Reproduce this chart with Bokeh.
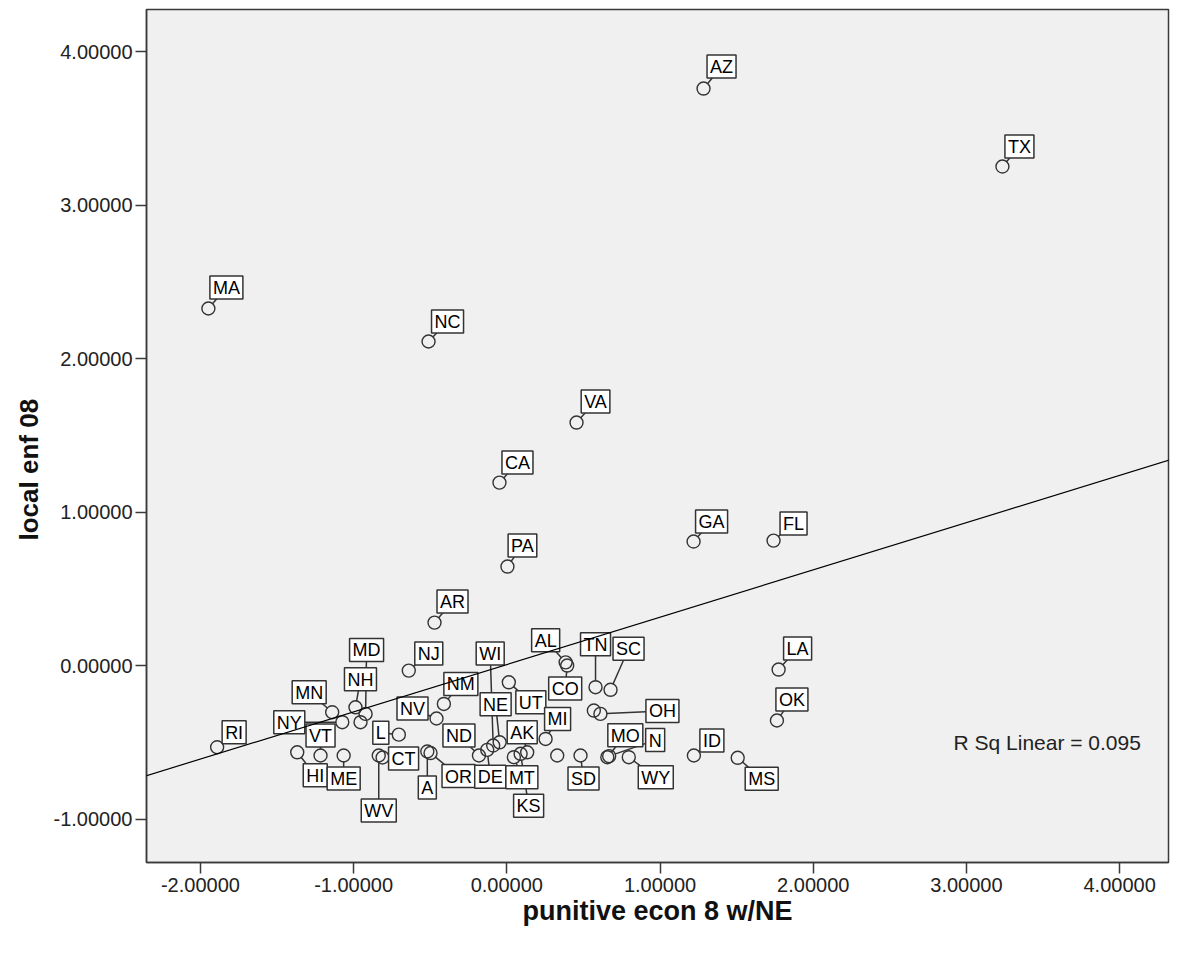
import numpy as np
from bokeh.plotting import figure
from bokeh.models import (Range1d, FixedTicker, PrintfTickFormatter, Slope, Label,
                          ColumnDataSource, Title)
from bokeh.core.properties import value
from bokeh.embed import file_html
from bokeh.resources import INLINE

# ---------------- data ----------------
states = ["AZ", "TX", "MA", "NC", "VA", "CA", "GA", "FL", "PA", "AR", "LA", "OK",
          "RI", "MN", "NY", "NH", "MD", "WA", "VT", "HI", "ME", "IL", "WV", "CT",
          "IA", "OR", "NV", "NM", "NJ", "ND", "DE", "WI", "NE", "UT", "AK", "MT",
          "KS", "AL", "CO", "TN", "SC", "KY", "OH", "MI", "DC", "SD", "MO", "IN",
          "WY", "ID", "MS"]
punitive_econ = [1.284, 3.235, -1.948, -0.511, 0.455, -0.048, 1.219, 1.741, 0.004, -0.472,
                 1.774, 1.763, -1.891, -1.140, -1.074, -0.988, -0.922, -0.955, -1.216,
                 -1.368, -1.065, -0.705, -0.836, -0.811, -0.519, -0.498, -0.459, -0.411,
                 -0.640, -0.182, -0.128, -0.089, -0.047, 0.013, 0.133, 0.046, 0.090,
                 0.384, 0.394, 0.579, 0.677, 0.568, 0.611, 0.253, 0.329, 0.481, 0.656,
                 0.668, 0.796, 1.221, 1.507]
local_enf = [3.759, 3.251, 2.326, 2.111, 1.583, 1.192, 0.808, 0.814, 0.645, 0.280,
             -0.026, -0.358, -0.532, -0.304, -0.369, -0.272, -0.315, -0.369, -0.586,
             -0.565, -0.586, -0.450, -0.586, -0.599, -0.560, -0.570, -0.345, -0.250,
             -0.033, -0.586, -0.549, -0.521, -0.500, -0.109, -0.565, -0.597, -0.575,
             0.021, 0.000, -0.141, -0.158, -0.293, -0.315, -0.478, -0.586, -0.586,
             -0.597, -0.590, -0.597, -0.586, -0.601]
# text shown in each case label ("" = label hidden by the chart)
shown_labels = ["AZ", "TX", "MA", "NC", "VA", "CA", "GA", "FL", "PA", "AR", "LA", "OK",
                "RI", "MN", "NY", "NH", "MD", "", "VT", "HI", "ME", "L", "WV", "CT",
                "A", "OR", "NV", "NM", "NJ", "ND", "DE", "WI", "NE", "UT", "AK", "MT",
                "KS", "AL", "CO", "TN", "SC", "", "OH", "MI", "", "SD", "MO", "N",
                "WY", "ID", "MS"]
fit_intercept = 0.007
fit_slope = 0.308
r_sq_text = "R Sq Linear = 0.095"
x_title = "punitive econ 8 w/NE"
y_title = "local enf 08"
x_ticks = [-2, -1, 0, 1, 2, 3, 4]
y_ticks = [-1, 0, 1, 2, 3, 4]

# ---------------- layout (label offsets in screen px) ----------------
label_dx = [18, 17, 18, 19, 19, 18, 18, 20, 15, 18, 19, 15,
            17, -23, -53, 5, 1, 0, 0, 18, 0, -18, 0, 21,
            0, 28, -24, 17, 20, -20, 3, -3, -4, 22, -5, 8,
            8, -20, -2, 0, 18, 0, 62, 12, 0, 3, 18, 46,
            27, 18, 24]
label_dy = [-22, -20, -21, -20, -21, -20, -20, -17, -21, -21, -21, -21,
            -15, -20, 0, -28, -64, 0, -20, 23, 23, -2, 55, 1,
            36, 23, -10, -20, -17, -20, 27, -92, -38, 20, -20, 20,
            52, -22, 23, -43, -41, 0, -3, -20, 0, 23, -22, -16,
            20, -15, 21]

x0, x1 = -2.352, 4.319
y0, y1 = -1.283, 4.274
FW, FH = 1022, 853
LEFT, TOP = 146, 9
sx = FW / (x1 - x0)
sy = FH / (y1 - y0)

px = np.array(punitive_econ)
py = np.array(local_enf)
ddx = np.array(label_dx, dtype=float)
ddy = np.array(label_dy, dtype=float)
keep = np.array([s != "" for s in shown_labels])

lx = px + ddx / sx
ly = py - ddy / sy
dist = np.hypot(ddx, ddy)
dist[dist == 0] = 1
r = 6.0
sx0 = px + (ddx / dist * r) / sx
sy0 = py - (ddy / dist * r) / sy

lab_src = ColumnDataSource(dict(
    x0=sx0[keep], y0=sy0[keep], lx=lx[keep], ly=ly[keep],
    lab=[s for s in shown_labels if s != ""]))
pt_src = ColumnDataSource(dict(x=px, y=py, st=states))

p = figure(frame_width=FW, frame_height=FH,
           x_range=Range1d(x0, x1), y_range=Range1d(y0, y1),
           output_backend="svg", toolbar_location=None,
           min_border_left=LEFT, min_border_top=TOP, min_border_right=20,
           min_border_bottom=85)
p.background_fill_color = "#f0f0f0"
p.border_fill_color = "white"
p.outline_line_color = "#3a3a3a"
p.outline_line_width = 1.5
p.xgrid.visible = False
p.ygrid.visible = False

p.xaxis.ticker = FixedTicker(ticks=x_ticks)
p.yaxis.ticker = FixedTicker(ticks=y_ticks)
for ax in (p.xaxis[0], p.yaxis[0]):
    ax.formatter = PrintfTickFormatter(format="%.5f")
    ax.axis_line_color = "#3a3a3a"
    ax.axis_line_width = 1.5
    ax.major_tick_line_color = "#3a3a3a"
    ax.major_tick_line_width = 1.5
    ax.major_tick_out = 11
    ax.major_tick_in = 0
    ax.minor_tick_line_color = None
    ax.major_label_text_font = "Liberation Sans"
    ax.major_label_text_font_size = "20px"
    ax.major_label_text_color = "#222222"
    ax.axis_label_text_font = "Liberation Sans"
    ax.axis_label_text_font_style = "bold"
    ax.axis_label_text_color = "#111111"
p.xaxis.axis_label = x_title
p.xaxis.axis_label_text_font_size = "27px"
p.xaxis.major_label_standoff = 4
p.yaxis.major_label_standoff = 3
p.xaxis.axis_label_standoff = 1

# y title: SPSS places it a little below the frame centre
p.add_layout(Title(text=y_title, align="left", offset=322, standoff=14,
                   text_font="Liberation Sans", text_font_style="bold",
                   text_font_size="26px", text_color="#111111"), "left")

# leader lines
p.segment(x0="x0", y0="y0", x1="lx", y1="ly", source=lab_src,
          line_color="#333333", line_width=1.5)
# points
p.scatter(x="x", y="y", source=pt_src, marker="circle", size=13,
          fill_alpha=0, line_color="#333333", line_width=1.4)
# label boxes
p.text(x="lx", y="ly", text="lab", source=lab_src,
       text_font=value("Liberation Sans"), text_font_size="18px",
       text_color="black", text_align="center", text_baseline="middle",
       background_fill_color="white", border_line_color="#333333",
       border_line_width=1.5, padding=dict(left=3, right=3, top=2, bottom=1))
# fit line
p.add_layout(Slope(gradient=fit_slope, y_intercept=fit_intercept,
                   line_color="black", line_width=1.2))
p.add_layout(Label(x=(953 - 506.3) / sx, y=(665 - 742) / sy, text=r_sq_text,
                   text_font="Liberation Sans", text_font_size="21px",
                   text_baseline="middle", text_color="#222222"))

open("out.html", "w").write(file_html(p, INLINE))
